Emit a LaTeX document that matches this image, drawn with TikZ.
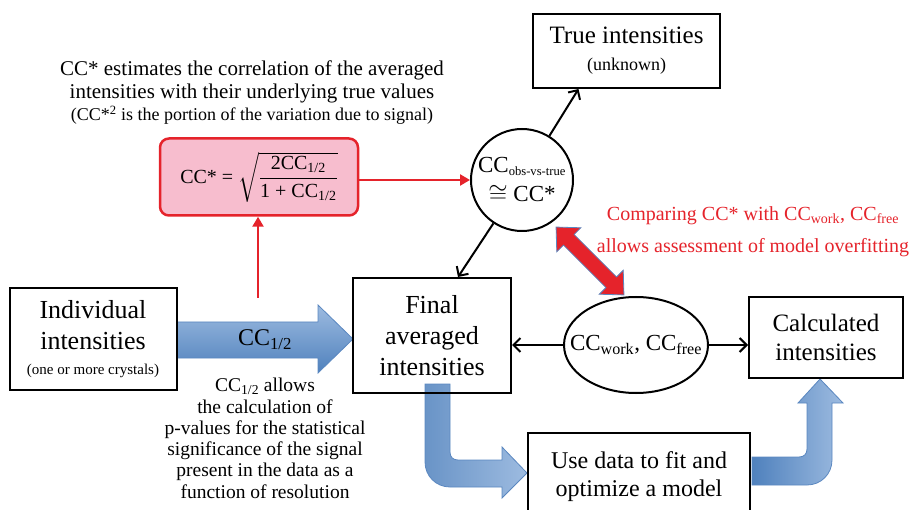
\documentclass[tikz,border=0pt]{standalone}
\usepackage{amsmath}
\usepackage{fontspec}
\setmainfont{Liberation Serif}
\usetikzlibrary{arrows.meta,shapes.geometric}
\definecolor{ccred}{HTML}{E5232B}
\definecolor{ccpink}{HTML}{F7BDCE}
\definecolor{ccblue}{HTML}{4F81BD}
\definecolor{cclight}{HTML}{9DBBE0}
\definecolor{ccline}{HTML}{5A87C0}
\newcommand{\fs}[2]{\fontsize{#1}{#2}\selectfont}
\begin{document}
\begin{tikzpicture}[x=1pt,y=-1pt]
	\tikzstyle{every node}+=[inner sep=0pt]
	\tikzstyle{box}=[draw=black,line width=2pt,align=center]
	\tikzstyle{arr}=[black,line width=2pt,-{Straight Barb[length=7pt,width=14pt]}]
	\tikzstyle{redarr}=[ccred,line width=2.5pt,-{Triangle[length=10pt,width=11pt]}]
	\tikzstyle{blockarrow}=[draw=ccline,line width=0.8pt]
	\useasboundingbox (0,0) rectangle (915,510);
	% blue block arrows
	\draw [blockarrow,top color=cclight,bottom color=ccblue] (177,322) -- (318,322) -- (318,305) -- (353,339) -- (318,373) -- (318,358) -- (177,358) -- cycle;
	\draw [blockarrow,left color=ccblue!85,right color=cclight] (425,384) -- (425,462) .. controls (425,476) and (436,487) .. (450,487) -- (502,487) -- (502,498) -- (527,473) -- (502,447) -- (502,460) -- (458,460) .. controls (453,460) and (450,457) .. (450,452) -- (450,384) -- cycle;
	\draw [blockarrow,left color=ccblue,right color=cclight] (752,457) -- (799,457) .. controls (804,457) and (807,454) .. (807,449) -- (807,403) -- (798,403) -- (820,379) -- (843,403) -- (832,403) -- (832,460) .. controls (832,474) and (821,485) .. (807,485) -- (752,485) -- cycle;
	% red double arrow
	\begin{scope}[shift={(590,261)},rotate=-45]
	\draw [draw=ccline,fill=ccred,line width=0.8pt] (-48,0) -- (-30,17) -- (-30,7.5) -- (30,7.5) -- (30,17) -- (48,0) -- (30,-17) -- (30,-7.5) -- (-30,-7.5) -- (-30,-17) -- cycle;
	\end{scope}
	% boxes
	\node [box,minimum width=167pt,minimum height=102pt,font=\fs{26}{31}] (indiv) at (93,339) {Individual\\intensities\\[-6pt]{\fs{15}{20}(one or more crystals)}};
	\node [box,minimum width=158pt,minimum height=115pt,font=\fs{26}{31}] (final) at (432,335.5) {Final\\averaged\\intensities};
	\node [box,minimum width=187pt,minimum height=74pt,font=\fs{25}{30}] (truebox) at (626.5,51) {True intensities\\[-3pt]{\fs{18}{22}(unknown)}};
	\node [box,minimum width=154pt,minimum height=81pt,font=\fs{25}{29}] (calc) at (826,337.5) {Calculated\\intensities};
	\node [box,minimum width=222pt,minimum height=88pt,font=\fs{24}{28},anchor=north] (model) at (639,432) {Use data to fit and\\optimize a model};
	\node [draw=ccred,fill=ccpink,line width=2.5pt,rounded corners=9pt,minimum width=198pt,minimum height=77pt,font=\fs{20}{24}] (ccstar) at (259,177) {CC* = $\sqrt{\dfrac{\text{2CC\textsubscript{1/2}}}{\text{1 + CC\textsubscript{1/2}}}}$};
	\node [circle,draw,line width=2pt,minimum size=102pt,inner sep=-9pt,align=center,font=\fs{23}{27}] (circ) at (522,180) {CC{\fs{18}{20}\textsubscript{obs-vs-true}}\\[2pt]$\cong$ CC*};
	\node [ellipse,draw,line width=2pt,minimum width=144pt,minimum height=96pt,inner sep=-20pt,font=\fs{23}{27}] (ell) at (636,345) {CC\textsubscript{work}, CC\textsubscript{free}};
	% texts
	\node [font=\fs{24}{28}] (halflabel) at (265,340) {CC\textsubscript{1/2}};
	\node [align=center,anchor=north,font=\fs{21}{23}] (starnote) at (252,61) {CC* estimates the correlation of the averaged\\intensities with their underlying true values\\[-1pt]{\fs{18}{20}(CC*\textsuperscript{2} is the portion of the variation due to signal)}};
	\node [align=center,anchor=north,font=\fs{19.5}{21.3}] (halfnote) at (265,378) {CC\textsubscript{1/2} allows\\the calculation of\\p-values for the statistical\\significance of the signal\\present in the data as a\\function of resolution};
	\node [align=center,anchor=north,text=ccred,font=\fs{20}{32}] (fitnote) at (753,206) {Comparing CC* with CC\textsubscript{work}, CC\textsubscript{free}\\allows assessment of model overfitting};
	% connectors
	\coordinate (redfoot) at (258,298);
	\draw [redarr] (redfoot) -- (redfoot |- ccstar.south);
	\draw [redarr] (ccstar.east |- circ) -- (circ);
	\draw [arr] (circ) -- ([xshift=-48pt]truebox.south);
	\draw [arr] (circ) -- ([xshift=26pt]final.north);
	\draw [arr] (ell.west) -- (ell.west -| final.east);
	\draw [arr] (ell.east) -- (ell.east -| calc.west);
\end{tikzpicture}
\end{document}
